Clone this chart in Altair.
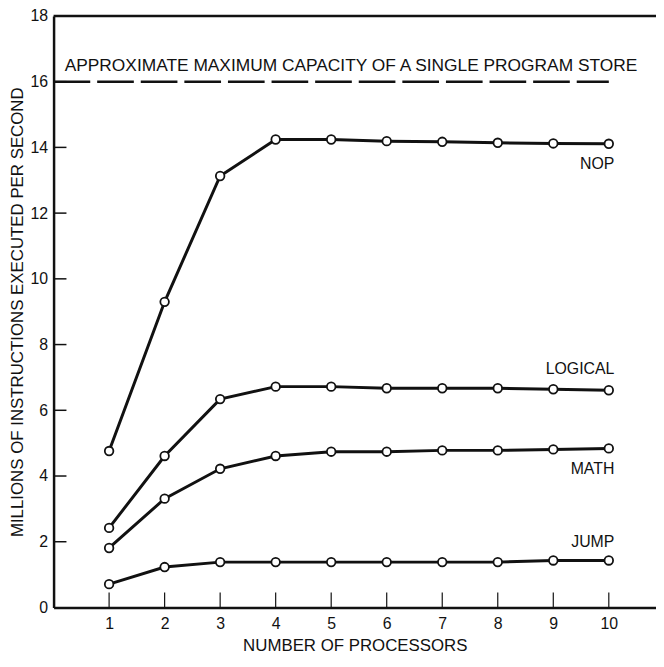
import altair as alt
import pandas as pd

# ---- data ----
processors = [1, 2, 3, 4, 5, 6, 7, 8, 9, 10]
nop = [4.76, 9.30, 13.13, 14.24, 14.24, 14.19, 14.17, 14.14, 14.12, 14.11]
logical = [2.42, 4.61, 6.34, 6.72, 6.72, 6.67, 6.67, 6.67, 6.64, 6.61]
math_ = [1.81, 3.31, 4.22, 4.61, 4.74, 4.74, 4.78, 4.78, 4.81, 4.84]
jump = [0.71, 1.23, 1.38, 1.38, 1.38, 1.38, 1.38, 1.38, 1.43, 1.43]

series_names = ["NOP", "LOGICAL", "MATH", "JUMP"]
label_x = [10.1, 10.1, 10.1, 10.1]
label_y = [13.5, 7.26, 4.21, 1.99]

capacity_value = 16
capacity_x = [0, 10]
capacity_text = "APPROXIMATE MAXIMUM CAPACITY OF A SINGLE PROGRAM STORE"
capacity_text_x = 0.2
capacity_text_y = 16.47

x_ticks = [1, 2, 3, 4, 5, 6, 7, 8, 9, 10]
y_ticks = [0, 2, 4, 6, 8, 10, 12, 14, 16, 18]
x_max = 10.85
y_max = 18

# ---- tables ----
rows = []
for name, vals in zip(series_names, [nop, logical, math_, jump]):
    for p, v in zip(processors, vals):
        rows.append({"series": name, "x": p, "y": v})
df = pd.DataFrame(rows)
labels_df = pd.DataFrame({"series": series_names, "x": label_x, "y": label_y})
cap_df = pd.DataFrame({"x": [capacity_x[0]], "x2": [capacity_x[1]], "y": [capacity_value]})
cap_text_df = pd.DataFrame({"x": [capacity_text_x], "y": [capacity_text_y], "t": [capacity_text]})
top_df = pd.DataFrame({"x": [0], "x2": [x_max], "y": [y_max]})
yt_df = pd.DataFrame({"y": y_ticks[1:-1]})
xt_df = pd.DataFrame({"x": x_ticks})

FONT = "Liberation Sans"
INK = "#111111"
W, H = 608, 597

xscale = alt.Scale(domain=[0, x_max], nice=False, zero=False)
yscale = alt.Scale(domain=[0, y_max], nice=False)

x_enc = alt.X(
    "x:Q", scale=xscale,
    axis=alt.Axis(values=x_ticks, title="NUMBER OF PROCESSORS", labelPadding=8,
                  titlePadding=6, format="d"),
)
y_enc = alt.Y(
    "y:Q", scale=yscale,
    axis=alt.Axis(values=y_ticks, title="MILLIONS OF INSTRUCTIONS EXECUTED PER SECOND",
                  labelPadding=6, titlePadding=4, format="d"),
)

lines = alt.Chart(df).mark_line(color=INK, strokeWidth=3).encode(
    x=x_enc, y=y_enc, detail="series:N"
)
points = alt.Chart(df).mark_point(
    shape="circle", filled=True, fill="white", stroke=INK, strokeWidth=1.8, size=75, opacity=1
).encode(x="x:Q", y="y:Q")

labels = alt.Chart(labels_df).mark_text(
    align="right", baseline="middle", font=FONT, fontSize=16, color=INK
).encode(x="x:Q", y="y:Q", text="series:N")

cap_line = alt.Chart(cap_df).mark_rule(
    color=INK, strokeWidth=2.5, strokeDash=[37, 7]
).encode(x="x:Q", x2="x2:Q", y="y:Q")

cap_text = alt.Chart(cap_text_df).mark_text(
    align="left", baseline="middle", font=FONT, fontSize=17.5, color=INK
).encode(x="x:Q", y="y:Q", text="t:N")

top_line = alt.Chart(top_df).mark_rule(color=INK, strokeWidth=2.5).encode(
    x="x:Q", x2="x2:Q", y="y:Q"
)

y_tick_marks = alt.Chart(yt_df).mark_rule(color=INK, strokeWidth=1.5).encode(
    y="y:Q", x=alt.value(0), x2=alt.value(13)
)
x_tick_marks = alt.Chart(xt_df).mark_rule(color=INK, strokeWidth=1.2).encode(
    x="x:Q", y=alt.value(H), y2=alt.value(H - 15)
)

chart = alt.layer(
    top_line, cap_line, cap_text, y_tick_marks, x_tick_marks, lines, points, labels
).properties(
    width=W, height=H,
    autosize=alt.AutoSizeParams(type="none"),
    padding={"left": 46, "top": 5, "right": 0, "bottom": 49},
    background="white",
).configure_view(stroke=None).configure_axis(
    grid=False, ticks=False, domainColor=INK, domainWidth=2.5,
    labelFont=FONT, labelFontSize=16, labelColor=INK,
    titleFont=FONT, titleFontSize=17, titleColor=INK, titleFontWeight="normal",
)

chart.save("out.html", embed_options={"renderer": "svg", "actions": False})
